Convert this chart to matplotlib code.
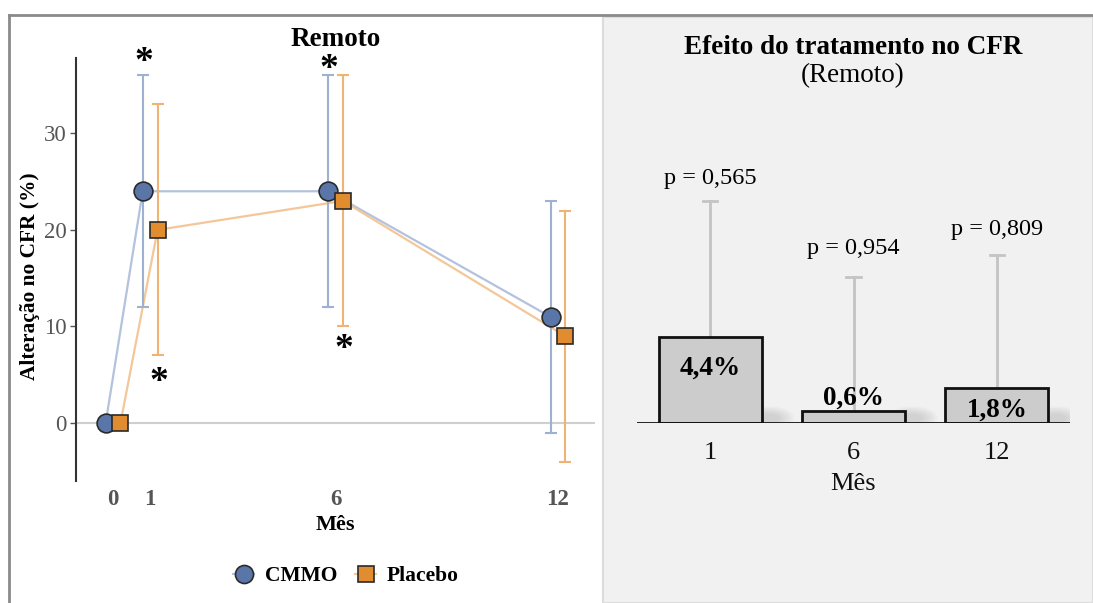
import matplotlib.pyplot as plt
import matplotlib.patches as mpatches
from matplotlib.lines import Line2D
import numpy as np

plt.rcParams['font.family'] = ['Liberation Serif', 'DejaVu Serif']

# left panel data
months = [0, 1, 6, 12]
cmmo_mean = [0, 24, 24, 11]
cmmo_low = [0, 12, 12, -1]
cmmo_high = [0, 36, 36, 23]
plac_mean = [0, 20, 23, 9]
plac_low = [0, 7, 10, -4]
plac_high = [0, 33, 36, 22]

# asterisks (month, y)
stars_cmmo = [(1, 37.3), (6, 36.6)]
stars_plac = [(1, 4.2), (6, 7.6)]

# right panel data
eff_months = ['1', '6', '12']
eff_vals = [4.4, 0.6, 1.8]
eff_upper = [11.4, 7.5, 8.6]
eff_labels = ['4,4%', '0,6%', '1,8%']
p_labels = ['p = 0,565', 'p = 0,954', 'p = 0,809']

W, H = 1093, 603
fig = plt.figure(figsize=(W / 100, H / 100), dpi=100)
fig.patch.set_facecolor('white')

def fx(px): return px / W
def fy(py): return 1 - py / H

# right panel background + outer frame
fig.add_artist(mpatches.Rectangle((fx(603), 0), 1 - fx(603), fy(17), transform=fig.transFigure,
                                  facecolor='#f1f1f1', edgecolor='#dcdcdc', lw=1.5, zorder=0))
fig.add_artist(Line2D([fx(9), 1], [fy(15), fy(15)], transform=fig.transFigure, color='#8a8a8a', lw=2))
fig.add_artist(Line2D([fx(9), fx(9)], [0, fy(15)], transform=fig.transFigure, color='#8a8a8a', lw=2))

# ---------- left panel ----------
ax = fig.add_axes([fx(76), fy(481), fx(595) - fx(76), fy(58) - fy(481)])
ax.set_facecolor('none')
ax.set_xlim(-1, 13)
ax.set_ylim(-6, 37.8)
ax.axhline(0, color='#cfcfcf', lw=1.5, zorder=1)

d = 0.2
xc = np.array(months) - d
xp = np.array(months) + d
c_line, c_fill = '#b3c2dd', '#5a76a8'
p_line, p_fill = '#f3c799', '#e08c2f'

ax.plot(xc, cmmo_mean, color=c_line, lw=1.6, zorder=2)
ax.plot(xp, plac_mean, color=p_line, lw=1.6, zorder=2)
for i in range(1, len(months)):
    ax.errorbar(xc[i], cmmo_mean[i], yerr=[[cmmo_mean[i] - cmmo_low[i]], [cmmo_high[i] - cmmo_mean[i]]],
                color='#9fb1d3', lw=1.5, capsize=4, capthick=1.5, zorder=2)
    ax.errorbar(xp[i], plac_mean[i], yerr=[[plac_mean[i] - plac_low[i]], [plac_high[i] - plac_mean[i]]],
                color='#efb474', lw=1.5, capsize=4, capthick=1.5, zorder=2)
ax.plot(xc, cmmo_mean, 'o', ms=13.5, mfc=c_fill, mec='#2a2a2a', mew=1.2, zorder=4)
ax.plot(xp, plac_mean, 's', ms=12, mfc=p_fill, mec='#2a2a2a', mew=1.2, zorder=4)

for m, y in stars_cmmo:
    ax.text(m - d + 0.03, y, '*', ha='center', va='center', fontsize=27, fontweight='bold', zorder=5)
for m, y in stars_plac:
    ax.text(m + d + 0.03, y, '*', ha='center', va='center', fontsize=27, fontweight='bold', zorder=5)

for s in ['top', 'right', 'bottom']:
    ax.spines[s].set_visible(False)
ax.spines['left'].set_color('#333333')
ax.spines['left'].set_linewidth(1.5)
ax.set_yticks([0, 10, 20, 30])
ax.set_xticks(months)
ax.tick_params(axis='y', labelsize=16.5, colors='#555555', length=4, width=1, pad=3)
ax.tick_params(axis='x', labelsize=16.5, colors='#555555', length=0, pad=6)
for lab in ax.get_xticklabels():
    lab.set_fontweight('bold')
ax.set_xlabel('Mês', fontsize=16, fontweight='bold', labelpad=3)
ax.set_ylabel('Alteração no CFR (%)', fontsize=15.4, fontweight='bold')
ax.yaxis.set_label_coords(-0.07, 0.485)
ax.set_title('Remoto', fontsize=19.5, fontweight='bold', pad=9)

handles = [Line2D([], [], color=c_line, marker='o', ms=13, mfc=c_fill, mec='#2a2a2a', mew=1.2),
           Line2D([], [], color=p_line, marker='s', ms=11.5, mfc=p_fill, mec='#2a2a2a', mew=1.2)]
fig.legend(handles, ['CMMO', 'Placebo'], loc='center', bbox_to_anchor=(fx(346), fy(576)), ncol=2,
           frameon=False, prop={'size': 15.5, 'weight': 'bold'}, handlelength=1.0,
           handletextpad=0.5, columnspacing=0.8)

# ---------- right panel ----------
ax2 = fig.add_axes([fx(637), fy(423), fx(1070) - fx(637), fy(150) - fy(423)])
ax2.set_facecolor('none')
ax2.set_xlim(-0.51, 2.51)
ax2.set_ylim(0, 14)
xb = np.arange(len(eff_vals))
bw = 0.72

# soft shadows to the right of bars
for x, v in zip(xb, eff_vals):
    for k in range(6):
        ax2.add_patch(mpatches.Ellipse((x + bw / 2 + 0.05, 0.25), 0.35 - 0.04 * k, 1.2 - 0.15 * k,
                                       facecolor='#888888', alpha=0.05, lw=0, zorder=1))
for x, v, u in zip(xb, eff_vals, eff_upper):
    ax2.plot([x, x], [v, u], color='#c4c4c4', lw=2, zorder=1.5)
    ax2.plot([x - 0.05, x + 0.05], [u, u], color='#c4c4c4', lw=2, zorder=1.5)
ax2.bar(xb, eff_vals, width=bw, color='#cccccc', edgecolor='#111111', lw=2, zorder=2)
ax2.axhline(0, color='#111111', lw=2, zorder=3)

lab_y = [2.8, 1.25, 0.65]
for x, y, t in zip(xb, lab_y, eff_labels):
    ax2.text(x, y, t, ha='center', va='center', fontsize=19.5, fontweight='bold', zorder=4)
p_off = [0.6, 0.9, 0.8]
for x, u, o, t in zip(xb, eff_upper, p_off, p_labels):
    ax2.text(x, u + o, t, ha='center', va='bottom', fontsize=17.5, zorder=4)

for s in ['top', 'right', 'left', 'bottom']:
    ax2.spines[s].set_visible(False)
ax2.set_yticks([])
ax2.set_xticks(xb)
ax2.set_xticklabels(eff_months)
ax2.tick_params(axis='x', labelsize=19, colors='#111111', length=0, pad=14)
ax2.set_xlabel('Mês', fontsize=19, color='#111111', labelpad=6)

fig.text(fx(853), fy(48), 'Efeito do tratamento no CFR', ha='center', va='center',
         fontsize=19.5, fontweight='bold')
fig.text(fx(853), fy(76), '(Remoto)', ha='center', va='center', fontsize=19.5)

fig.savefig('out.png', dpi=100)
